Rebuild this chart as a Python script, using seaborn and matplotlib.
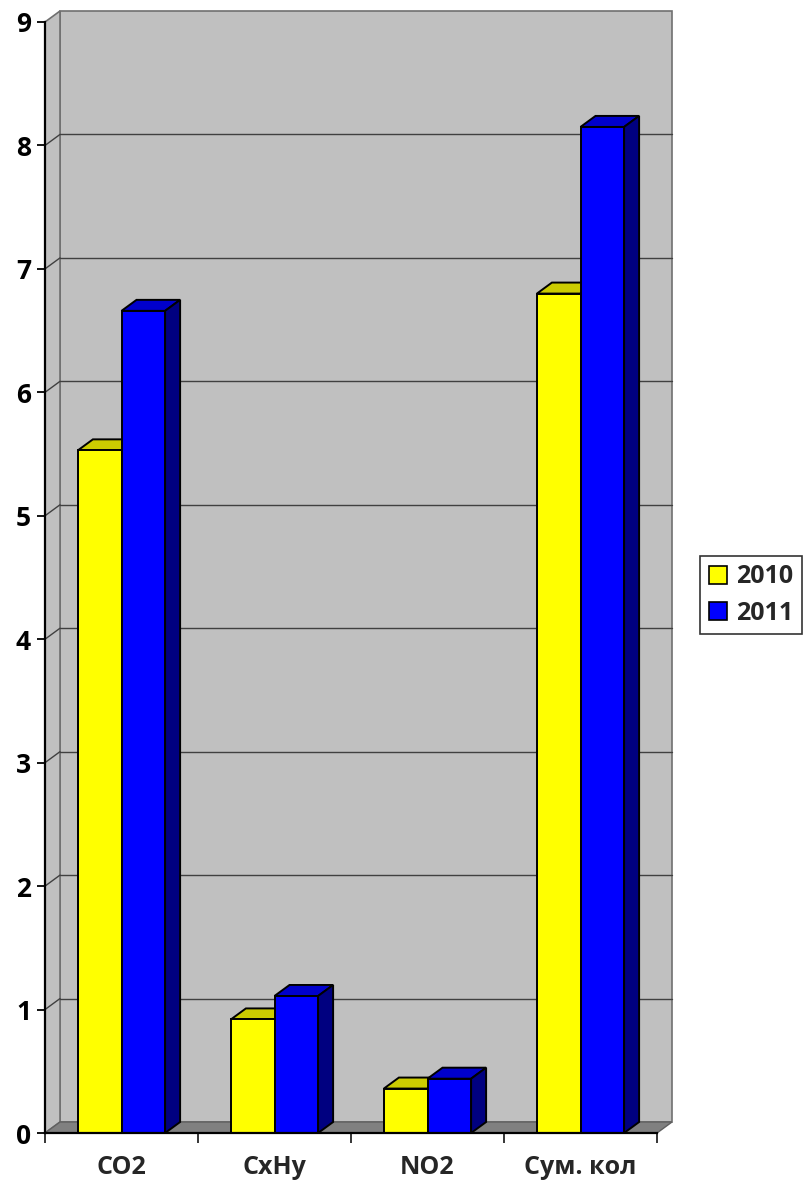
import matplotlib
matplotlib.use("Agg")
import matplotlib.pyplot as plt
import seaborn as sns
import pandas as pd
from matplotlib.patches import Polygon, Rectangle

# data
categories = ["CO2", "CxHy", "NO2", "Сум. кол"]
years = ["2010", "2011"]
values_2010 = [5.53, 0.92, 0.36, 6.80]
values_2011 = [6.66, 1.11, 0.44, 8.15]

df = pd.DataFrame({
    "category": categories * 2,
    "year": [years[0]] * 4 + [years[1]] * 4,
    "value": values_2010 + values_2011,
})

front = {"2010": "#FFFF00", "2011": "#0000FF"}
top_col = {"2010": "#CCCC00", "2011": "#0000CC"}
side_col = {"2010": "#808000", "2011": "#000080"}

sns.set_style("white")
plt.rcParams["font.family"] = ["Open Sans", "DejaVu Sans"]
plt.rcParams["font.weight"] = "bold"

W, H = 808, 1186
fig = plt.figure(figsize=(W / 100, H / 100), dpi=100)
ax = fig.add_axes([45 / W, 1 - 1133 / H, 612 / W, 1111 / H])

sns.barplot(data=df, x="category", y="value", hue="year", palette=front,
            width=0.57, saturation=1, edgecolor="black", linewidth=1.4,
            legend=False, ax=ax)
bars = [p for p in ax.patches if p.get_height() > 0]

ax.set_xlim(-0.5, 3.5)
ax.set_ylim(0, 9)

# 3d depth offset (pixels) converted to data units
bb = ax.get_window_extent()
dx = 15 * 4 / bb.width
dy = 11 * 9 / bb.height

wall = "#C0C0C0"
ax.add_patch(Rectangle((-0.5 + dx, dy), 4, 9, fc=wall, ec="#707070", lw=1.2,
                       zorder=0, clip_on=False))
ax.add_patch(Polygon([(-0.5, 0), (-0.5 + dx, dy), (-0.5 + dx, 9 + dy), (-0.5, 9)],
                     closed=True, fc=wall, ec="#707070", lw=1.2, zorder=0,
                     clip_on=False))
ax.add_patch(Polygon([(-0.5, 0), (3.5, 0), (3.5 + dx, dy), (-0.5 + dx, dy)],
                     closed=True, fc="#808080", ec="#606060", lw=1, zorder=0.5,
                     clip_on=False))
for t in range(1, 9):
    ax.plot([-0.5 + dx, 3.5 + dx], [t + dy, t + dy], color="#404040", lw=1,
            zorder=0.6, clip_on=False)
    ax.plot([-0.5, -0.5 + dx], [t, t + dy], color="#404040", lw=1,
            zorder=0.6, clip_on=False)

# top and side faces for each bar
for p in bars:
    fc = p.get_facecolor()
    yr = "2010" if fc[2] < 0.5 else "2011"
    z = 2 if yr == "2010" else 3
    p.set_zorder(z + 0.2)
    x0, w, h = p.get_x(), p.get_width(), p.get_height()
    x1 = x0 + w
    ax.add_patch(Polygon([(x0, h), (x1, h), (x1 + dx, h + dy), (x0 + dx, h + dy)],
                         closed=True, fc=top_col[yr], ec="black", lw=1.4,
                         zorder=z, clip_on=False))
    ax.add_patch(Polygon([(x1, 0), (x1 + dx, dy), (x1 + dx, h + dy), (x1, h)],
                         closed=True, fc=side_col[yr], ec="black", lw=1.4,
                         zorder=z, clip_on=False))

for s in ["top", "right"]:
    ax.spines[s].set_visible(False)
for s in ["left", "bottom"]:
    ax.spines[s].set_color("black")
    ax.spines[s].set_linewidth(1.6)
    ax.spines[s].set_zorder(5)

ax.set_yticks(range(10))
ax.set_yticklabels([str(i) for i in range(10)], fontsize=19, fontweight="bold")
ax.tick_params(axis="y", left=True, length=6, width=1.3, pad=4, colors="black")

ax.set_xticks([-0.5, 0.5, 1.5, 2.5, 3.5])
ax.set_xticklabels([])
ax.set_xticks(range(4), minor=True)
ax.set_xticklabels(categories, minor=True, fontsize=18, fontweight="bold")
ax.tick_params(axis="x", which="major", bottom=True, length=7, width=1.3)
ax.tick_params(axis="x", which="minor", bottom=True, length=0, pad=16)
ax.set_xlabel("")
ax.set_ylabel("")
ax.patch.set_alpha(0)

handles = [Rectangle((0, 0), 1, 1, fc=front[y], ec="black", lw=1.2) for y in years]
leg = fig.legend(handles, years, loc="center",
                 bbox_to_anchor=(751 / W, 1 - 595 / H), frameon=True,
                 fancybox=False, edgecolor="black",
                 prop={"size": 18, "weight": "bold"},
                 handlelength=0.75, handleheight=0.75, handletextpad=0.35,
                 labelspacing=0.45, borderpad=0.35, borderaxespad=0)
leg.get_frame().set_linewidth(1.2)

fig.savefig("out.png", dpi=100)
